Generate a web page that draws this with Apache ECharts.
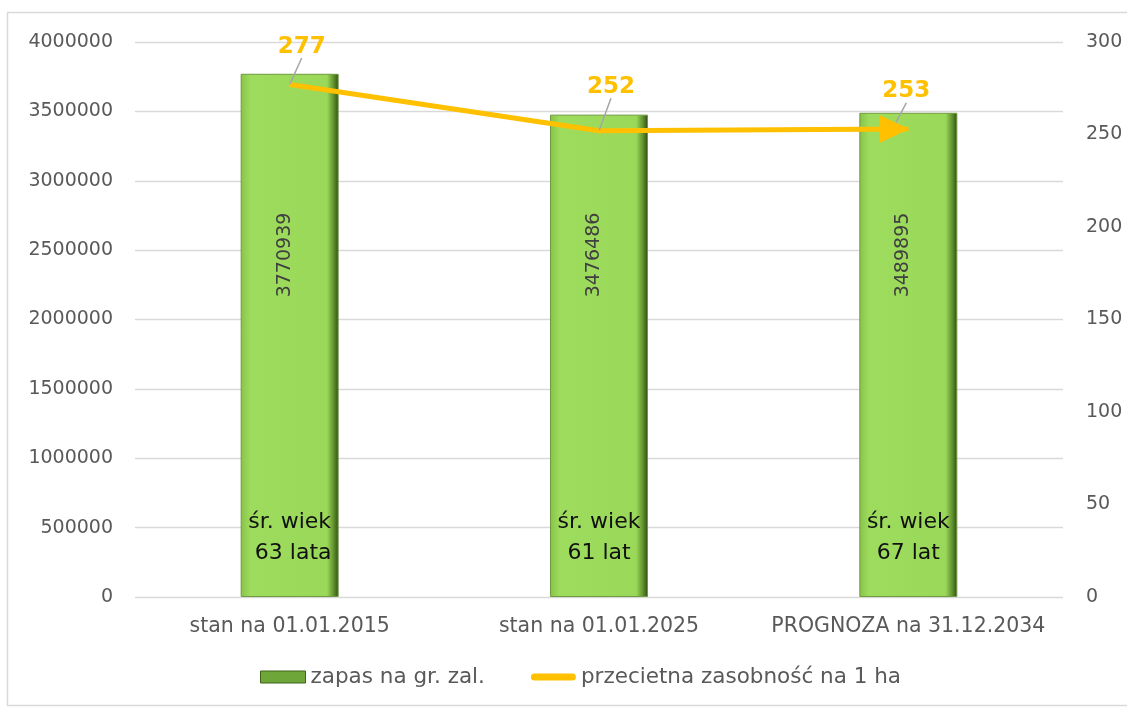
<!DOCTYPE html>
<html><head><meta charset="utf-8">
<script src="https://cdn.jsdelivr.net/npm/echarts@6/dist/echarts.min.js"></script>
<style>html,body{margin:0;padding:0;background:#fff}#c{width:1127px;height:709px}</style>
</head><body><div id="c"></div>
<script>
const categories = ['stan na 01.01.2015', 'stan na 01.01.2025', 'PROGNOZA na 31.12.2034'];
const zapas = [3770939, 3476486, 3489895];
const zasobnosc = [277, 252, 253];
const wiek = ['śr. wiek\n 63 lata', 'śr. wiek\n61 lat', 'śr. wiek\n67 lat'];
const leftTicks = {min: 0, max: 4000000, interval: 500000};
const rightTicks = {min: 0, max: 300, interval: 50};

const chart = echarts.init(document.getElementById('c'));
const barColor = new echarts.graphic.LinearGradient(0, 0, 1, 0, [
  {offset: 0, color: '#86c247'}, {offset: 0.1, color: '#9edc5d'},
  {offset: 0.88, color: '#9ad859'}, {offset: 0.95, color: '#5f8f2c'}, {offset: 1, color: '#2f4a15'}
]);
const last = zasobnosc.length - 1;
const lineData = zasobnosc.map((v, i) => i === last
  ? {value: v, symbol: 'triangle', symbolSize: [28, 30], symbolRotate: -90, symbolOffset: [-14, 0], label: {distance: -9}}
  : {value: v, symbol: 'circle', symbolSize: 1, label: {distance: i === 1 ? 11 : 5}});
const FONT = 'DejaVu Sans';

chart.setOption({
  animation: false,
  graphic: [{type: 'rect', shape: {x: 7.5, y: 12.5, width: 1200, height: 693}, style: {fill: 'none', stroke: '#d9d9d9', lineWidth: 1.5}, silent: true}],
  grid: {left: 135, right: 64, top: 42, bottom: 112},
  legend: {
    bottom: 16, left: 255, itemGap: 46, itemWidth: 45, itemHeight: 12,
    textStyle: {fontFamily: FONT, fontSize: 21.5, color: '#595959'},
    data: [
      {name: 'zapas na gr. zal.', icon: 'rect', itemStyle: {color: '#6ea63a', borderColor: '#3d6319', borderWidth: 1}},
      {name: 'przecietna zasobność na 1 ha', icon: 'path://M3.5,0 L41.5,0 A3.5,3.5 0 0 1 41.5,7 L3.5,7 A3.5,3.5 0 0 1 3.5,0 Z', itemStyle: {color: '#FFC000', borderWidth: 0}}
    ]
  },
  xAxis: {
    type: 'category', data: categories,
    axisLine: {show: false}, axisTick: {show: false},
    axisLabel: {fontFamily: FONT, fontSize: 20.5, color: '#595959', margin: 19, interval: 0}
  },
  yAxis: [
    Object.assign({type: 'value', position: 'left',
      axisLine: {show: false}, axisTick: {show: false},
      splitLine: {lineStyle: {color: '#d9d9d9', width: 1.3}},
      axisLabel: {fontFamily: FONT, fontSize: 19, color: '#595959', margin: 22, formatter: v => String(v)}}, leftTicks),
    Object.assign({type: 'value', position: 'right',
      axisLine: {show: false}, axisTick: {show: false}, splitLine: {show: false},
      axisLabel: {fontFamily: FONT, fontSize: 19, color: '#595959', margin: 23, formatter: v => String(v)}}, rightTicks)
  ],
  series: [
    {
      name: 'zapas na gr. zal.', type: 'bar', data: zapas, barWidth: 98,
      itemStyle: {color: barColor, borderColor: '#6f9a3f', borderWidth: 1},
      label: {show: true, position: 'inside', rotate: 90, fontFamily: FONT, fontSize: 19, color: '#404040'},
      labelLayout: p => ({x: p.rect.x + p.rect.width / 2 - 5, y: 255, align: 'center', verticalAlign: 'middle'})
    },
    {
      name: 'wiek', type: 'bar', data: zapas, barWidth: 98, barGap: '-100%', silent: true,
      itemStyle: {color: 'transparent'},
      label: {show: true, position: 'insideBottom', distance: 28,
        formatter: p => wiek[p.dataIndex], fontFamily: FONT, fontSize: 22, lineHeight: 31, color: '#111', align: 'center'}
    },
    {
      name: 'przecietna zasobność na 1 ha', type: 'line', yAxisIndex: 1, data: lineData,
      lineStyle: {color: '#FFC000', width: 5}, itemStyle: {color: '#FFC000'},
      label: {show: true, position: 'top', fontFamily: FONT, fontWeight: 'bold', fontSize: 23, color: '#FFC000'},
      labelLayout: {dx: 12, dy: -21},
      labelLine: {show: true, lineStyle: {color: '#a6a6a6', width: 1.5}}
    }
  ]
});
</script></body></html>
